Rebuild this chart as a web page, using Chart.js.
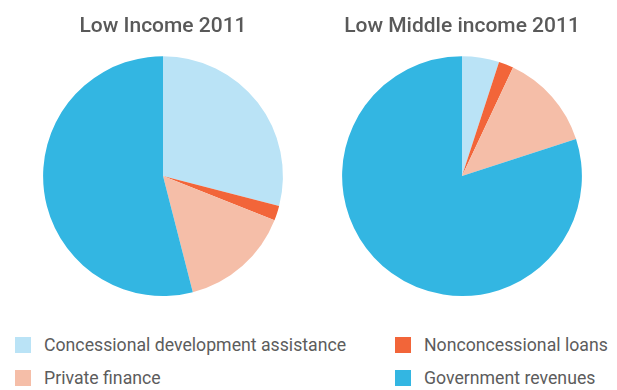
<!DOCTYPE html>
<html>
<head>
<meta charset="utf-8">
<script src="https://cdn.jsdelivr.net/npm/chart.js@4/dist/chart.umd.min.js"></script>
<style>
  html, body { margin: 0; padding: 0; background: #fff; }
  body { width: 617px; height: 390px; position: relative; overflow: hidden; font-family: Roboto, "Noto Sans", sans-serif; }
  .pie { position: absolute; top: 0; width: 300px; height: 300px; }
  #legend { position: absolute; left: 15px; top: 331px; display: grid; grid-template-columns: 380px 210px; row-gap: 5px; }
  .item { display: flex; align-items: center; height: 28px; color: #5c5c5c; font-size: 17.7px; white-space: nowrap; }
  .swatch { width: 16px; height: 16px; margin-right: 13px; flex: none; }
</style>
</head>
<body>
<div class="pie" style="left:13px"><canvas id="lowIncome"></canvas></div>
<div class="pie" style="left:312px"><canvas id="lowMiddle"></canvas></div>
<div id="legend"></div>
<script>
// Financing sources (share of total, %)
const categories = [
  'Concessional development assistance',
  'Nonconcessional loans',
  'Private finance',
  'Government revenues'
];
const lowIncome2011 = [29, 2, 15, 54];
const lowMiddleIncome2011 = [5, 2, 13, 80];
const chartTitles = ['Low Income 2011', 'Low Middle income 2011'];
const sliceColors = ['#bae3f6', '#f26539', '#f5bea8', '#33b6e2'];

function makePie(id, title, values) {
  return new Chart(document.getElementById(id), {
    type: 'pie',
    data: {
      labels: categories,
      datasets: [{
        data: values,
        backgroundColor: sliceColors,
        borderWidth: 0
      }]
    },
    options: {
      responsive: true,
      maintainAspectRatio: false,
      animation: false,
      layout: { padding: { bottom: 4 } },
      plugins: {
        legend: { display: false },
        tooltip: { enabled: false },
        title: {
          display: true,
          text: title,
          color: '#595959',
          font: { family: 'Roboto', size: 21, weight: '500', lineHeight: 1.2 },
          padding: { top: 14, bottom: 17 }
        }
      }
    }
  });
}

makePie('lowIncome', chartTitles[0], lowIncome2011);
makePie('lowMiddle', chartTitles[1], lowMiddleIncome2011);

// Shared legend, two columns
const legend = document.getElementById('legend');
categories.forEach((name, i) => {
  const item = document.createElement('div');
  item.className = 'item';
  const sw = document.createElement('span');
  sw.className = 'swatch';
  sw.style.background = sliceColors[i];
  const label = document.createElement('span');
  label.textContent = name;
  item.appendChild(sw);
  item.appendChild(label);
  legend.appendChild(item);
});
</script>
</body>
</html>
